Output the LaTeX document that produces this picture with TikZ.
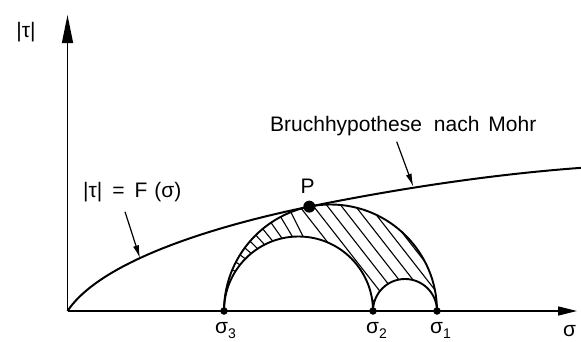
\documentclass[tikz,border=0pt]{standalone}
\usepackage{fontspec}
\setmainfont{Liberation Sans}
\usetikzlibrary{arrows.meta,calc}
\begin{document}
\begin{tikzpicture}[x=1pt,y=1pt,
  lbl/.style={inner sep=0pt,font=\fontsize{21}{25}\selectfont},
  axis/.style={line width=1.3pt},
  heavy/.style={line width=1.9pt},
  hatch/.style={line width=1.1pt},
  pointer/.style={line width=1.2pt,-{Latex[length=13pt,width=6pt]}},
  dot/.style={circle,fill=black,inner sep=0pt,minimum size=#1}]
\useasboundingbox[fill=white] (0,0) rectangle (581,341);
% coordinates
\coordinate (O) at (67.5,30);
\coordinate (Ytip) at (67.5,326);
\coordinate (Xtip) at (577,30);
\coordinate (Cb) at (330.5,30);
\coordinate (Cm) at (298.5,30);
\coordinate (s3) at (224,30);
\coordinate (s2) at (373,30);
\coordinate (s1) at (437,30);
\coordinate (P) at (309.27,134.36);
\coordinate (E) at (583,173.3);
% hatching
\begin{scope}
\clip (s1) arc[start angle=0,end angle=180,radius=106.5]
           arc[start angle=180,end angle=0,radius=74.5]
           arc[start angle=180,end angle=0,radius=32] -- cycle;
\foreach \xk in {297,311,325,339,353,367,379}{
  \draw[hatch] ($(\xk,138)+(128:30)$) -- ($(\xk,138)+(-52:250)$);
}
\foreach \a in {112,118,124,129.5,134.5,139,143.5,148,152.5,157}{
  \pgfmathsetmacro\b{180-1.4*(180-\a)}
  \draw[hatch] ($(Cb)+(\a:110)$) -- ($(Cm)+(\b:71)$);
}
\end{scope}
% Mohr circles
\draw[heavy] (s1) arc[start angle=0,end angle=180,radius=106.5];
\draw[heavy] (s3) arc[start angle=180,end angle=0,radius=74.5];
\draw[heavy] (s2) arc[start angle=180,end angle=0,radius=32];
% axes
\draw[axis,-{Triangle[length=28pt,width=11pt]}] (O) -- (Ytip);
\draw[axis,-{Triangle[length=19pt,width=9pt]}] (O) -- (Xtip);
% envelope
\draw[line width=2pt] (O) .. controls (103,83) and (226,117.4) .. (P)
                          .. controls (400,152.8) and (495,167) .. (E);
% dots
\node[dot=12pt] (Pdot) at (P) {};
\node[dot=7.5pt] (d3) at (s3) {};
\node[dot=7.5pt] (d2) at (s2) {};
\node[dot=7.5pt] (d1) at (s1) {};
% labels
\node[lbl] (tau) at (26,308.5) {|τ|};
\node[lbl,anchor=west] (Flbl) at (83,148.5) {|τ|\hspace{10pt}=\hspace{10pt}F\hspace{7pt}(σ)};
\node[lbl] (Plbl) at (307.5,154.5) {P};
\node[lbl,anchor=base west] (Mohr) at (270,209.3) {Bruchhypothese\hspace{12pt}nach\hspace{9pt}Mohr};
\node[lbl,anchor=base west] (l3) at (215,8) {σ\raisebox{-5pt}{\fontsize{14}{14}\selectfont 3}};
\node[lbl,anchor=base west] (l2) at (366,8) {σ\raisebox{-5pt}{\fontsize{14}{14}\selectfont 2}};
\node[lbl,anchor=base west] (l1) at (430,8) {σ\raisebox{-5pt}{\fontsize{14}{14}\selectfont 1}};
\node[lbl,anchor=base west] (lx) at (563,5) {σ};
% pointers
\coordinate (m1) at (396.7,199.3);
\coordinate (m2) at (413.3,154.3);
\draw[pointer] (m1) -- (m2);
\coordinate (f1) at (125,129.3);
\coordinate (f2) at (140,82.7);
\draw[pointer] (f1) -- (f2);
\end{tikzpicture}
\end{document}
